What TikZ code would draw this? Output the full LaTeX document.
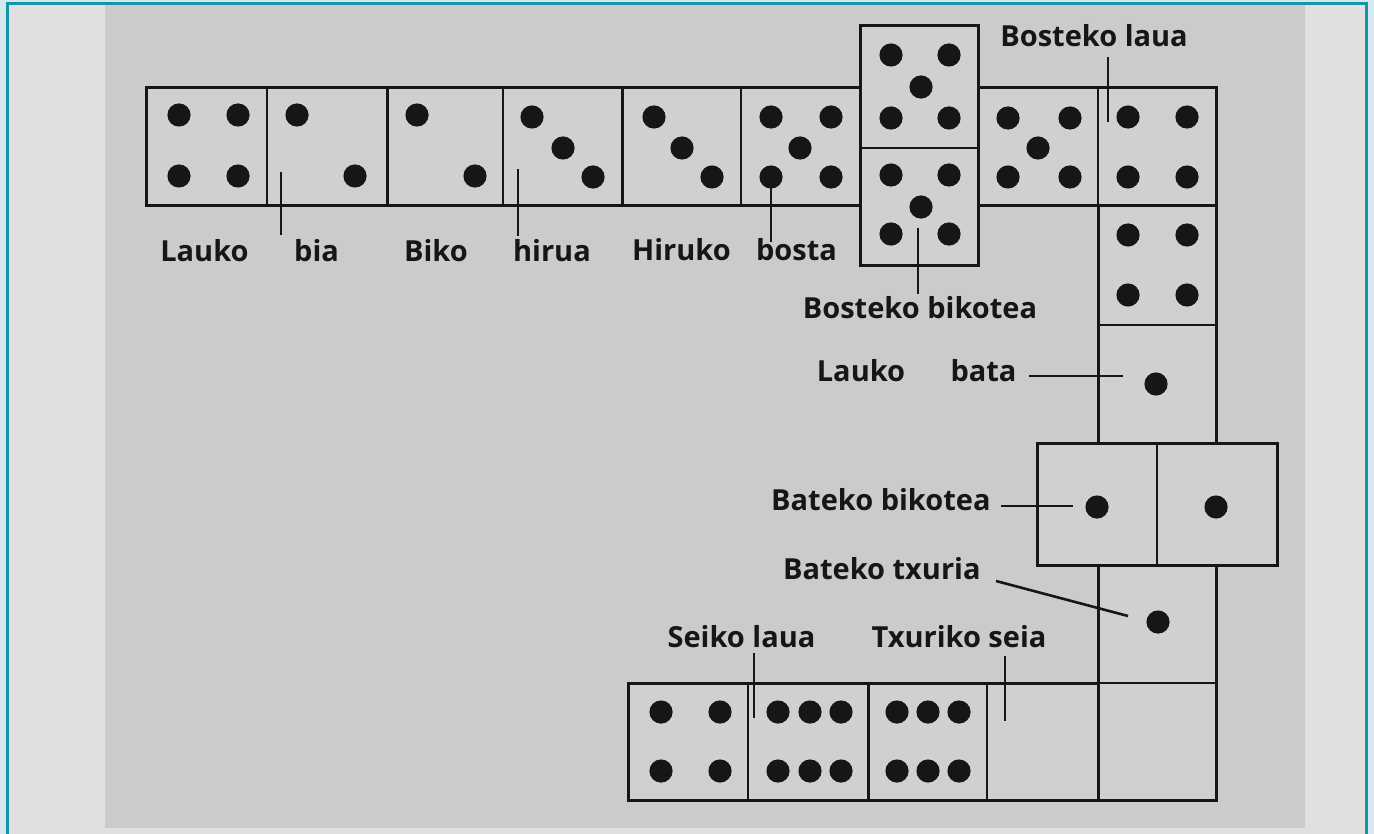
\documentclass[tikz,border=0pt]{standalone}
\usepackage{fontspec}
\setmainfont{Open Sans}
\usetikzlibrary{positioning}
\definecolor{frameblue}{HTML}{D5E8EE}
\definecolor{frameteal}{HTML}{1794AD}
\definecolor{outergray}{HTML}{E0E0E0}
\definecolor{panelgray}{HTML}{CBCBCB}
\definecolor{facegray}{HTML}{D0D0D0}
\definecolor{ink}{HTML}{161616}
\tikzset{
  bone/.style={draw=ink,fill=facegray,line width=1.5pt,line join=miter},
  split/.style={draw=ink,line width=1.3pt},
  leader/.style={draw=ink,line width=1.3pt},
  lbl/.style={font=\fontsize{14.5pt}{18pt}\selectfont\bfseries,text=ink,inner sep=0pt,anchor=base}
}
\newcommand\pips[1]{\foreach \p in {#1} \fill[ink] (\p) circle[radius=5.8pt];}

\begin{document}
\begin{tikzpicture}[x=.5pt,y=-.5pt]
\useasboundingbox (0,0) rectangle (1374,834);
\fill[frameblue] (0,0) rectangle (1374,834);
\draw[frameteal,fill=outergray,line width=1.5pt] (7,4) rectangle (1366,845);
\fill[panelgray] (105,5.5) rectangle (1305,828);
% top row
\draw[bone] (146,88) rectangle (387,206); \draw[split] (267,88)--(267,206);
\draw[bone] (387,88) rectangle (622,206); \draw[split] (503,88)--(503,206);
\draw[bone] (622,88) rectangle (860,206); \draw[split] (741,88)--(741,206);
\draw[bone] (860,26) rectangle (978,265); \draw[split] (860,148)--(978,148);
\draw[bone] (978,88) rectangle (1216,206); \draw[split] (1098,88)--(1098,206);
% right column
\draw[bone] (1098,206) rectangle (1216,443); \draw[split] (1098,325)--(1216,325);
\draw[bone] (1037,443) rectangle (1277,565); \draw[split] (1157,443)--(1157,565);
\draw[bone] (1098,565) rectangle (1216,800); \draw[split] (1098,683)--(1216,683);
% bottom row
\draw[bone] (868,683) rectangle (1098,800); \draw[split] (987,683)--(987,800);
\draw[bone] (628,683) rectangle (868,800); \draw[split] (748,683)--(748,800);
% pips
\pips{{179,115},{238,115},{179,176},{238,176}}
\pips{{297,115},{355,176}}
\pips{{417,115},{475,176}}
\pips{{532,117},{563,148},{593,177}}
\pips{{654,117},{682,148},{712,177}}
\pips{{771,117},{831,117},{800,148},{771,177},{831,177}}
\pips{{891,55},{949,55},{921,87},{891,118},{949,118}}
\pips{{891,175},{949,175},{921,207},{891,234},{949,234}}
\pips{{1008,118},{1070,118},{1038,148},{1008,177},{1070,177}}
\pips{{1128,117},{1187,117},{1128,177},{1187,177}}
\pips{{1128,235},{1187,235},{1128,295},{1187,295}}
\pips{{1156,384}}
\pips{{1097,507},{1216,507}}
\pips{{1158,622}}
\pips{{661,712},{720,712},{661,771},{720,771}}
\pips{{778,712},{810,712},{841,712},{778,771},{810,771},{841,771}}
\pips{{897,712},{928,712},{959,712},{897,771},{928,771},{959,771}}
% labels
\node[lbl] (laukoA) at (204.5,261) {Lauko};
\node[lbl] (bia) at (316.5,261) {bia};
\node[lbl] (biko) at (436,261) {Biko};
\node[lbl] (hirua) at (552,261) {hirua};
\node[lbl] (hiruko) at (681.5,260) {Hiruko};
\node[lbl] (bosta) at (796.5,260) {bosta};
\node[lbl] (bostlaua) at (1094,47) {Bosteko laua};
\node[lbl] (bostbik) at (920,318) {Bosteko bikotea};
\node[lbl] (laukoB) at (861,381) {Lauko};
\node[lbl] (bata) at (983.5,381) {bata};
\node[lbl,anchor=base east] (batbik) at (991,510) {Bateko bikotea};
\node[lbl,anchor=base east] (battx) at (981,579) {Bateko txuria};
\node[lbl] (seilaua) at (741.5,647) {Seiko laua};
\node[lbl] (txseia) at (959,647) {Txuriko seia};
% leaders
\coordinate (bia-a) at (281,172); \coordinate (bia-b) at (281,235);
\coordinate (hir-a) at (518,169); \coordinate (hir-b) at (518,236);
\coordinate (bos-a) at (771,177); \coordinate (bos-b) at (771,242);
\coordinate (bbk-a) at (918,228); \coordinate (bbk-b) at (918,294);
\coordinate (blu-a) at (1108,57); \coordinate (blu-b) at (1108,122);
\coordinate (bat-a) at (1029,376); \coordinate (bat-b) at (1123,376);
\coordinate (tbk-a) at (1001,506); \coordinate (tbk-b) at (1073,506);
\coordinate (btx-a) at (996,581); \coordinate (btx-b) at (1128,616);
\coordinate (slu-a) at (754,653); \coordinate (slu-b) at (754,718);
\coordinate (txs-a) at (1005,656); \coordinate (txs-b) at (1005,721);
\foreach \q in {bia,hir,bos,bbk,blu,bat,tbk,btx,slu,txs}
  \draw[leader] (\q-a) -- (\q-b);
\end{tikzpicture}
\end{document}
